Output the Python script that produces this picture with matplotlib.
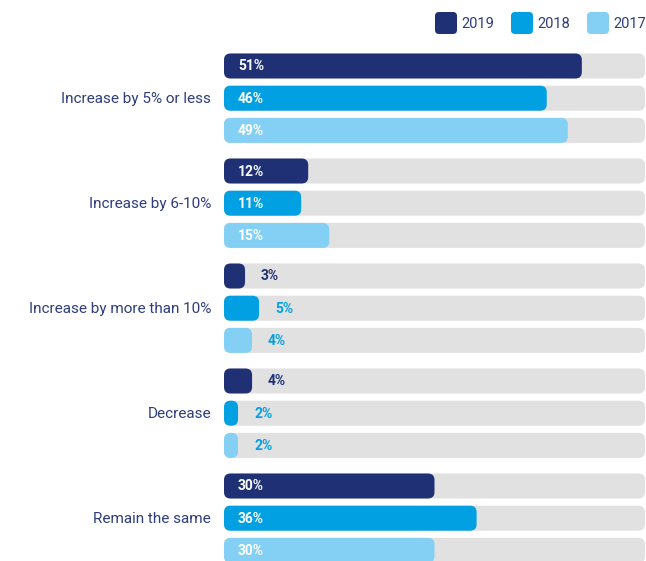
import matplotlib
matplotlib.use("Agg")
import matplotlib.pyplot as plt
from matplotlib.patches import FancyBboxPatch

categories = ["Increase by 5% or less", "Increase by 6-10%", "Increase by more than 10%",
              "Decrease", "Remain the same"]
years = ["2019", "2018", "2017"]
v2019 = [51, 12, 3, 4, 30]
v2018 = [46, 11, 5, 2, 36]
v2017 = [49, 15, 4, 2, 30]
series = [v2019, v2018, v2017]
max_scale = 60

colors = ["#1f3174", "#00a0e2", "#84d0f5"]
outside_colors = ["#1f3174", "#00a0e2", "#00a0e2"]
bg_color = "#e1e1e1"
text_color = "#2e3d7c"
font = "Roboto"

W, H = 646, 561
fig = plt.figure(figsize=(W / 100, H / 100), dpi=100)
x0, x1 = 224, 645
ax = fig.add_axes([x0 / W, 0, (x1 - x0) / W, 1])
ax.set_xlim(0, max_scale)
ax.set_ylim(H - 66, -66)
ax.axis("off")

group_gap = 105
bar_gap = 32.2
bar_h = 25
px_per_x = (x1 - x0) / max_scale
aspect = px_per_x  # y data units are pixels
rad = 6.5 / px_per_x


def rbar(y, w, color, z):
    r = min(rad, w / 2)
    p = FancyBboxPatch((0, y - bar_h / 2), w, bar_h,
                       boxstyle=f"round,pad=0,rounding_size={r}",
                       mutation_aspect=aspect, fc=color, ec="none", zorder=z)
    ax.add_patch(p)


for g, cat in enumerate(categories):
    for k, vals in enumerate(series):
        y = g * group_gap + k * bar_gap
        rbar(y, max_scale, bg_color, 1)
        v = vals[g]
        rbar(y, v, colors[k], 2)
        label = f"{v}%"
        if v >= 10:
            ax.text(14 / px_per_x, y + 0.5, label, color="white", fontsize=10,
                    fontweight="bold", family=font, va="center", ha="left", zorder=3)
        else:
            ax.text(v + 16 / px_per_x, y + 0.5, label, color=outside_colors[k], fontsize=10,
                    fontweight="bold", family=font, va="center", ha="left", zorder=3)
    ax.text(-13 / px_per_x, g * group_gap + bar_gap + 0.5, cat, color=text_color,
            fontsize=11, family=font, va="center", ha="right", clip_on=False)

# legend
leg_x = [435, 511, 587]
for i, yr in enumerate(years):
    fx = leg_x[i] / W
    fy = 1 - 34 / H
    p = FancyBboxPatch((fx, fy), 22 / W, 22 / H, transform=fig.transFigure,
                       boxstyle=f"round,pad=0,rounding_size={4 / W}",
                       mutation_aspect=W / H, fc=colors[i], ec="none")
    fig.add_artist(p)
    fig.text((leg_x[i] + 26) / W, 1 - 23.5 / H, yr, color=text_color, fontsize=10.5,
             family=font, va="center", ha="left")

fig.savefig("out.png", dpi=100)
